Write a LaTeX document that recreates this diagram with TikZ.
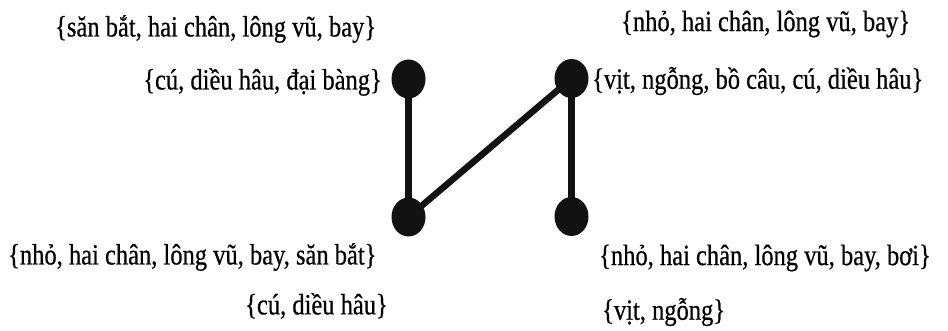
\documentclass[tikz,border=0pt]{standalone}
\usepackage{fontspec}
\setmainfont{Liberation Serif}[FakeBold=0.6]
\usetikzlibrary{shapes.geometric}
\newcommand{\tallt}[1]{\scalebox{1}[1.2]{#1}}
\tikzset{
  dot/.style={ellipse, fill=black!93, draw=none, inner sep=0pt, minimum width=34pt, minimum height=39pt},
  conn/.style={line width=6.5pt, black!93},
  lbl/.style={inner sep=0pt, font=\fontsize{24.5}{26}\selectfont}
}
\begin{document}
\begin{tikzpicture}[x=1pt, y=-1pt]
\useasboundingbox[fill=white] (0,0) rectangle (948,331);
\node[dot] (tl) at (408.5,79) {};
\node[dot] (tr) at (571.5,78.5) {};
\node[dot] (bl) at (408.5,217) {};
\node[dot] (br) at (571.5,216.5) {};
\draw[conn] (tl.center) -- (bl.center);
\draw[conn] (bl.center) -- (tr.center);
\draw[conn] (tr.center) -- (br.center);
\node[lbl, anchor=west] (t1) at (55,29) {\tallt{\{săn bắt, hai chân, lông vũ, bay\}}};
\node[lbl, anchor=east] (t2) at (382,82) {\tallt{\{cú, diều hâu, đại bàng\}}};
\node[lbl, anchor=west] (t3) at (621,24) {\tallt{\{nhỏ, hai chân, lông vũ, bay\}}};
\node[lbl, anchor=west] (t4) at (592,81) {\tallt{\{vịt, ngỗng, bồ câu, cú, diều hâu\}}};
\node[lbl, anchor=west] (t5) at (8,257) {\tallt{\{nhỏ, hai chân, lông vũ, bay, săn bắt\}}};
\node[lbl, anchor=east] (t6) at (388,306) {\tallt{\{cú, diều hâu\}}};
\node[lbl, anchor=west] (t7) at (599,258) {\tallt{\{nhỏ, hai chân, lông vũ, bay, bơi\}}};
\node[lbl, anchor=west] (t8) at (602,312) {\tallt{\{vịt, ngỗng\}}};
\end{tikzpicture}
\end{document}
